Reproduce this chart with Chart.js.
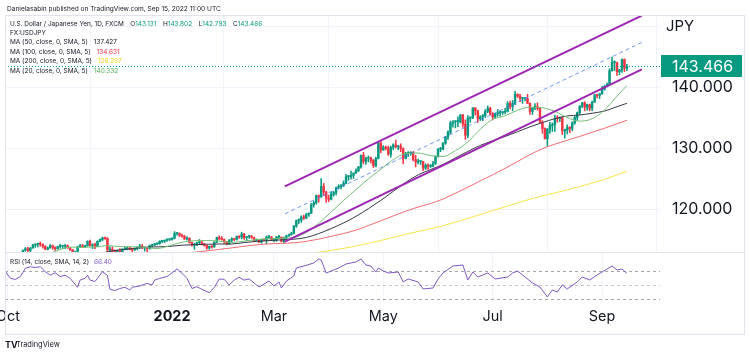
<!DOCTYPE html>
<html><head><meta charset="utf-8">
<script src="https://cdn.jsdelivr.net/npm/chart.js@4.4.1/dist/chart.umd.min.js"></script>
<style>
html,body{margin:0;padding:0;background:#fff;}
#wrap{position:relative;width:750px;height:355px;overflow:hidden;background:#fff;}
canvas{position:absolute;left:0;}
#cMain{top:0;width:750px;height:253px;}
#cRsi{top:253px;width:750px;height:102px;}
</style></head><body>
<div id="wrap"><canvas id="cMain" width="750" height="253"></canvas><canvas id="cRsi" width="750" height="102"></canvas></div>
<script>
// ---------------- DATA ----------------
const firstBar = 6; // bar index of first visible candle (0 = 1 Oct 2021)
const opens = [
112.2,113.3,113.6,113.3,113.7,114.2,114.3,114.4,114.3,114.0,113.5,113.7,114.1,113.8,113.6,
114.0,114.0,114.0,114.1,113.7,113.4,112.9,112.9,113.9,114.1,113.9,114.1,114.8,114.1,114.3,114.0,114.8,115.1,115.4,115.3,113.4,113.5,
113.2,112.8,113.2,112.8,113.5,113.5,113.7,113.5,113.4,113.6,113.7,114.0,113.7,113.7,113.6,114.1,114.2,114.4,114.4,114.8,114.8,115.0,115.1,
115.1,115.3,116.1,116.1,115.8,115.6,115.2,115.3,114.6,114.2,114.2,114.6,114.6,114.3,114.1,113.7,114.0,113.9,114.7,115.4,115.2,
115.1,114.7,114.4,115.0,115.2,115.1,115.6,115.5,116.0,115.4,115.6,115.6,115.4,114.9,115.0,114.7,115.1,115.0,115.5,115.5,
115.0,115.0,115.5,115.5,114.8,115.3,115.7,115.9,116.1,117.3,118.2,118.3,118.8,118.6,119.2,119.4,120.8,121.1,122.3,122.1,123.8,122.9,121.9,
121.7,122.5,122.8,123.6,123.8,124.0,124.3,125.4,125.4,125.6,126.0,126.4,127.0,128.9,127.9,128.4,128.5,128.1,127.2,128.4,130.9,
129.8,130.2,130.1,129.1,130.2,130.6,130.3,130.4,130.0,128.4,129.2,129.2,129.4,128.2,127.8,127.9,127.9,126.8,127.3,127.1,127.1,127.6,
128.7,129.9,129.9,130.9,131.9,132.7,134.2,134.4,134.4,134.4,135.5,134.0,132.2,135.0,135.1,136.7,136.2,134.9,135.2,135.4,136.1,136.6,
135.7,135.2,135.7,135.9,135.9,136.0,136.1,137.4,136.9,137.4,138.9,138.6,138.2,138.2,138.2,137.4,136.1,136.7,136.9,136.6,134.3,
133.3,131.6,133.2,133.8,133.9,135.0,134.9,135.1,132.9,133.0,133.5,133.3,134.2,135.1,135.9,137.0,137.5,136.8,137.2,136.6,137.6,138.8,138.7,
139.0,139.7,140.2,140.5,142.8,144.1,144.1,142.6,142.9,144.6,143.131];
const highs = [
113.4,113.8,113.8,113.8,114.3,114.4,114.5,114.7,114.4,114.1,113.9,114.3,114.2,113.9,114.0,
114.3,114.1,114.3,114.2,113.8,113.5,113.2,114.0,114.3,114.3,114.2,114.9,115.0,114.4,114.5,114.9,115.2,115.5,115.5,115.4,113.9,113.9,
113.4,113.4,113.6,113.6,113.9,113.9,113.8,113.7,113.7,113.9,114.3,114.3,113.8,113.8,114.2,114.3,114.5,114.5,114.9,114.9,115.0,115.2,115.2,
115.4,116.4,116.2,116.2,116.0,115.8,115.6,115.4,114.7,114.5,114.7,115.1,114.8,114.5,114.2,114.0,114.1,114.7,115.5,115.7,115.6,
115.2,114.8,115.1,115.4,115.3,115.7,115.7,116.3,116.1,115.6,115.8,115.8,115.5,115.2,115.1,115.2,115.2,115.7,115.8,115.6,
115.2,115.6,115.8,115.5,115.5,115.8,116.0,116.3,117.4,118.3,118.5,119.0,119.1,119.4,119.5,121.0,121.4,122.4,122.4,125.1,124.3,123.0,122.4,
122.9,123.0,123.7,124.1,124.1,124.7,125.8,125.6,126.3,126.0,126.7,127.1,129.0,129.4,128.6,128.8,128.6,128.2,128.6,131.2,131.3,
130.5,130.4,130.4,130.4,130.8,131.4,130.5,130.8,130.1,129.4,129.5,129.5,129.5,128.9,128.3,128.0,127.9,127.5,127.5,127.4,127.9,128.8,
130.0,130.2,131.0,132.0,132.9,134.5,134.6,134.6,135.2,135.6,135.6,134.7,135.4,135.2,136.7,136.7,136.3,135.4,135.6,136.4,137.0,136.8,
135.9,135.8,136.4,136.2,136.1,136.6,137.7,137.8,137.9,139.4,139.0,138.9,138.4,138.3,138.9,137.5,136.7,137.4,137.5,136.6,134.6,
133.4,133.3,134.3,134.2,135.5,135.4,135.2,135.2,133.2,133.9,133.6,134.4,135.4,136.0,137.0,137.6,137.7,137.3,137.3,137.8,138.9,138.9,139.1,
140.2,140.4,140.8,143.1,145.0,144.4,144.2,143.0,144.7,144.7,143.802];
const lows = [
112.1,113.2,113.1,113.0,113.7,113.8,113.9,114.0,113.7,113.4,113.4,113.7,113.5,113.3,113.5,
113.7,113.6,113.6,113.7,113.3,112.8,112.7,112.8,113.8,113.8,113.8,114.0,114.0,113.6,113.6,113.9,114.7,114.9,115.1,113.1,112.9,112.6,
112.6,112.6,112.6,112.8,113.4,113.4,113.4,113.1,113.3,113.4,113.6,113.6,113.2,113.1,113.5,113.9,114.1,114.2,114.3,114.6,114.6,114.8,114.9,
115.0,115.2,115.8,115.6,115.5,115.1,115.0,114.5,114.0,113.5,114.1,114.4,114.2,114.0,113.5,113.5,113.7,113.8,114.6,115.1,115.0,
114.5,114.2,114.3,114.7,114.9,115.0,115.3,115.2,115.1,114.9,115.3,115.3,114.9,114.8,114.6,114.5,114.9,114.4,115.3,114.9,
114.7,114.8,115.4,114.7,114.6,115.1,115.6,115.8,116.0,117.1,117.7,117.9,118.4,118.5,118.9,119.4,120.4,120.9,121.2,122.0,122.3,121.2,121.3,
121.6,122.2,122.4,123.4,123.4,123.8,124.2,124.8,125.0,125.1,125.9,126.2,126.8,127.5,127.4,127.8,127.6,126.9,127.0,128.3,129.3,
129.7,129.8,128.9,128.6,129.8,130.1,129.8,129.5,127.5,128.3,128.7,128.9,128.0,127.0,127.5,127.4,126.4,126.6,126.6,126.9,127.0,127.4,
128.6,129.5,129.8,130.7,131.5,132.4,133.5,133.4,133.6,134.2,133.5,131.5,131.8,134.3,134.9,135.5,134.3,134.6,134.6,135.1,135.9,135.5,
134.7,135.0,135.3,135.3,135.6,135.7,136.0,136.5,136.2,137.2,138.4,137.7,137.4,137.8,137.4,135.6,135.6,136.4,136.3,134.2,132.5,
131.6,130.4,132.5,132.8,132.8,134.3,134.4,132.3,131.7,132.4,132.6,132.9,134.0,134.6,135.6,136.7,136.2,136.3,136.2,136.2,137.6,138.3,138.2,
138.9,139.6,140.1,140.4,142.7,142.8,142.0,142.1,142.5,142.6,142.793];
const closes = [
113.3,113.6,113.3,113.7,114.2,114.3,114.4,114.3,114.0,113.5,113.7,114.1,113.8,113.6,114.0,
114.0,114.0,114.1,113.7,113.4,112.9,112.9,113.9,114.1,113.9,114.1,114.8,114.1,114.3,114.0,114.8,115.1,115.4,115.3,113.4,113.5,113.2,
112.8,113.2,112.8,113.5,113.5,113.7,113.5,113.4,113.6,113.7,114.0,113.7,113.7,113.6,114.1,114.2,114.4,114.4,114.8,114.8,115.0,115.1,115.1,
115.3,116.1,116.1,115.8,115.6,115.2,115.3,114.6,114.2,114.2,114.6,114.6,114.3,114.1,113.7,114.0,113.9,114.7,115.4,115.2,115.1,
114.7,114.4,115.0,115.2,115.1,115.6,115.5,116.0,115.4,115.6,115.6,115.4,114.9,115.0,114.7,115.1,115.0,115.5,115.5,115.0,
115.0,115.5,115.5,114.8,115.3,115.7,115.9,116.1,117.3,118.2,118.3,118.8,118.6,119.2,119.4,120.8,121.1,122.3,122.1,123.8,122.9,121.9,121.7,
122.5,122.8,123.6,123.8,124.0,124.3,125.4,125.4,125.6,126.0,126.4,127.0,128.9,127.9,128.4,128.5,128.1,127.2,128.4,130.9,129.8,
130.2,130.1,129.1,130.2,130.6,130.3,130.4,130.0,128.4,129.2,129.2,129.4,128.2,127.8,127.9,127.9,126.8,127.3,127.1,127.1,127.6,128.7,
129.9,129.9,130.9,131.9,132.7,134.2,134.4,134.4,134.4,135.5,134.0,132.2,135.0,135.1,136.7,136.2,134.9,135.2,135.4,136.1,136.6,135.7,
135.2,135.7,135.9,135.9,136.0,136.1,137.4,136.9,137.4,138.9,138.6,138.2,138.2,138.2,137.4,136.1,136.7,136.9,136.6,134.3,133.3,
131.6,133.2,133.8,133.9,135.0,134.9,135.1,132.9,133.0,133.5,133.3,134.2,135.1,135.9,137.0,137.5,136.8,137.2,136.6,137.6,138.8,138.7,139.0,
139.7,140.2,140.5,142.8,144.1,144.1,142.6,142.9,144.6,143.2,143.466];

const ma20Idx = [16,19,25,30,35,40,45,50,55,60,65,70,75,80,85,90,95,100,105,110,115,120,125,130,135,140,145,150,155,160,165,170,175,180,185,190,195,200,205,210,215,220,225,230,235,240,245,249];
const ma20Vals = [112.7,113.15,113.85,113.83,113.87,114.11,113.93,113.92,113.79,113.63,114.09,114.66,114.9,114.93,114.85,114.62,114.83,115.09,115.2,115.29,115.42,116.25,117.75,119.6,121.5,123.29,125.04,126.62,128.2,129.18,129.27,128.86,128.7,129.67,131.1,133.19,134.79,135.39,136.3,136.8,136.7,136.1,135.1,134.5,134.9,136.35,138.6,140.33];
const ma50Idx = [35,40,45,50,55,60,65,70,75,80,85,90,95,100,105,110,115,120,125,130,135,140,145,150,155,160,165,170,175,180,185,190,195,200,205,210,215,220,225,230,235,240,245,249];
const ma50Vals = [112.58,113.08,113.4,113.61,113.84,113.89,113.97,114.17,114.25,114.33,114.36,114.37,114.61,114.79,114.93,115.04,115.15,115.43,116.07,116.9,117.81,118.9,120.16,121.52,123.0,124.46,125.7,126.56,127.39,128.48,129.54,130.52,131.29,131.99,132.77,133.57,134.27,134.9,135.35,135.51,135.8,136.16,136.87,137.43];
const ma100Idx = [70,80,90,97,105,110,115,120,125,130,135,140,145,150,155,160,165,170,175,180,185,190,195,200,205,210,215,220,225,230,235,240,245,249];
const ma100Vals = [112.78,113.24,113.73,114.1,114.39,114.46,114.56,114.8,115.16,115.62,116.09,116.64,117.39,118.16,118.97,119.75,120.42,121.0,121.73,122.69,123.67,124.71,125.72,126.76,127.89,129.01,129.99,130.73,131.37,132.0,132.67,133.34,134.08,134.63];
const ma200Idx = [120,125,130,135,140,145,150,155,160,165,170,175,180,185,190,195,200,205,210,215,220,225,230,235,240,245,249];
const ma200Vals = [112.76,113.03,113.33,113.65,114.03,114.48,114.95,115.46,115.96,116.42,116.86,117.35,117.94,118.55,119.19,119.84,120.45,121.11,121.71,122.25,122.74,123.24,123.78,124.35,124.96,125.7,126.3];

const rsiIdx = [-1,1,3,5,7,9,11,13,15,17,19,21,23,25,28,29,31,32,33,35,36,38,40,41,43,45,47,49,50,53,56,58,59,61,64,66,68,70,72,74,76,78,81,83,85,87,89,91,93,95,97,101,105,107,109,110,112,115,116,119,123,125,126,128,131,133,136,140,142,144,146,148,149,151,153,157,159,161,165,167,171,173,175,179,183,185,187,189,193,196,201,203,205,207,211,214,217,219,221,223,225,229,231,234,237,239,243,245,247,249];
const rsiVals = [69,59.5,58,62,74,76,75,76,69,64,67.5,62,64,59.5,46.7,57,59.5,64,57,55,59.5,69,64,44,42,45,46.7,43,46.7,48.6,52.4,50,57,59.5,62,67.5,73,66.7,59.5,45,47.6,43.8,39,46.7,58.6,58,50,57,61,57,58.6,47.1,55.7,48.6,54.3,45.7,55.7,62.9,74.3,77.1,81.4,87.1,85.7,67.1,71.4,74.3,80,82.9,87.1,78.6,77.1,68.6,74.3,70,67.1,68.6,54.3,58.6,54.3,44.3,45.7,58.6,67.1,77.1,78.6,57.1,68.6,61.4,67.1,58.6,61.4,67.1,70,64.3,52.9,47.1,32.9,42.9,40,50,44.3,54.3,61.4,57.1,64.3,68.6,77.1,71.4,72.9,66.4];

// parallel channel drawing (bar index, price)
const channelX = [111.4, 255];
const channelUpper = [123.8, 151.8];
const channelMid = [119.3, 147.4];
const channelLower = [114.75, 143.0];

const timeTickIdx = [0, 66, 107, 151, 195, 239];
const timeTickLabels = ['Oct', '2022', 'Mar', 'May', 'Jul', 'Sep'];
const priceTicks = [120, 130, 140, 150];
const rsiBands = [70, 50, 30];
const lastPrice = 143.466;

const headerText = 'Danielasabin published on TradingView.com, Sep 15, 2022 11:00 UTC';
const symbolTitle = 'U.S. Dollar / Japanese Yen, 1D, FXCM';
const ohlcLabels = ['O', 'H', 'L', 'C'];
const ohlcValues = ['143.131', '143.802', '142.793', '143.466'];
const maLegendLabels = ['MA (50, close, 0, SMA, 5)', 'MA (100, close, 0, SMA, 5)', 'MA (200, close, 0, SMA, 5)', 'MA (20, close, 0, SMA, 5)'];
const maLegendValues = ['137.427', '134.631', '126.297', '140.332'];
const rsiLegendLabel = 'RSI (14, close, SMA, 14, 2)';
const rsiLegendValue = '66.40';

// ---------------- STYLE ----------------
const FAM = 'Inter, "Noto Sans", "Liberation Sans", sans-serif';
const TEXT = '#131722', TEAL = '#089981', UP = '#089981', DOWN = '#f23645';
const GRID = '#f0f3fa', BORDER = '#e0e3eb';
const C_MA20 = '#72c075', C_MA50 = '#363a45', C_MA100 = '#f06a72', C_MA200 = '#f8e44a';
const C_MA_TXT = ['#131722', '#f23645', '#f2cf1a', '#4caf50'];
const PURPLE = '#9c27b0', MIDBLUE = 'rgba(66,120,240,0.75)', RSI_C = '#7e57c2';

const X_MIN = -1.2, X_MAX = 262.3;
const Y_MIN = 112.89, Y_MAX = 151.9;
const RSI_MIN = 25.7, RSI_MAX = 95.7;

[highs, lows, closes].forEach((a, k) => { if (a.length !== opens.length) console.error('length mismatch', k, a.length, opens.length); });
if (ma20Idx.length !== ma20Vals.length || ma50Idx.length !== ma50Vals.length || ma100Idx.length !== ma100Vals.length || ma200Idx.length !== ma200Vals.length || rsiIdx.length !== rsiVals.length) console.error('ma/rsi length mismatch');

const mctx = document.createElement('canvas').getContext('2d');
function fitSize(text, weight, target) {
  mctx.font = weight + ' 100px ' + FAM;
  return 100 * target / mctx.measureText(text).width;
}
const F_AXIS = fitSize('140.000', 400, 61);
const F_JPY = fitSize('JPY', 400, 28);
const F_TIME = fitSize('May', 400, 29);
const F_YEAR = fitSize('2022', 700, 37);
const F_LEG = fitSize(maLegendLabels[0], 400, 78);
const F_HEAD = fitSize(headerText, 400, 214);
const F_LOGO = fitSize('TradingView', 400, 44);

// ---------------- DATASETS ----------------
const pts = (xs, ys) => xs.map((x, i) => ({x: x, y: ys[i]}));
const candleColor = (i) => closes[i] >= opens[i] ? UP : DOWN;
const wickData = opens.map((o, i) => ({x: firstBar + i, y: [lows[i], highs[i]]}));
const bodyData = opens.map((o, i) => ({x: firstBar + i, y: [o, closes[i]]}));
const barColors = opens.map((o, i) => candleColor(i));

const lineDs = (data, color, width, extra) => Object.assign({
  type: 'line', data: data, borderColor: color, borderWidth: width, pointRadius: 0,
  fill: false, cubicInterpolationMode: 'monotone'
}, extra || {});

const mainDatasets = [
  lineDs(pts(channelX, channelUpper), PURPLE, 2, {cubicInterpolationMode: 'default', tension: 0}),
  lineDs(pts(channelX, channelLower), PURPLE, 2, {cubicInterpolationMode: 'default', tension: 0}),
  lineDs(pts(channelX, channelMid), MIDBLUE, 1, {cubicInterpolationMode: 'default', tension: 0, borderDash: [4, 3]}),
  lineDs(pts(ma20Idx, ma20Vals), C_MA20, 1),
  lineDs(pts(ma50Idx, ma50Vals), C_MA50, 1),
  lineDs(pts(ma100Idx, ma100Vals), C_MA100, 1),
  lineDs(pts(ma200Idx, ma200Vals), C_MA200, 1),
  {type: 'bar', data: bodyData, backgroundColor: barColors, borderWidth: 0, barThickness: 1.8, grouped: false, minBarLength: 1},
  {type: 'bar', data: wickData, backgroundColor: barColors, borderWidth: 0, barThickness: 0.9, grouped: false}
];

function noPad(s) { s.paddingLeft = 0; s.paddingRight = 0; s.paddingTop = 0; s.paddingBottom = 0; }

const mainOverlay = {
  id: 'mainOverlay',
  afterDatasetsDraw(chart) {
    const ctx = chart.ctx, a = chart.chartArea, y = chart.scales.y;
    const py = Math.round(y.getPixelForValue(lastPrice)) + 0.5;
    ctx.save();
    ctx.strokeStyle = TEAL; ctx.lineWidth = 1; ctx.setLineDash([1, 2]);
    ctx.beginPath(); ctx.moveTo(a.left, py); ctx.lineTo(a.right, py); ctx.stroke();
    ctx.restore();
  },
  afterDraw(chart) {
    const ctx = chart.ctx, a = chart.chartArea, y = chart.scales.y;
    ctx.save();
    // frame
    ctx.strokeStyle = BORDER; ctx.lineWidth = 1; ctx.setLineDash([]);
    ctx.beginPath();
    ctx.moveTo(5, a.top + 0.5); ctx.lineTo(745, a.top + 0.5);
    ctx.moveTo(5.5, a.top); ctx.lineTo(5.5, a.bottom);
    ctx.moveTo(744.5, a.top); ctx.lineTo(744.5, a.bottom);
    ctx.moveTo(5, a.bottom - 0.5); ctx.lineTo(745, a.bottom - 0.5);
    ctx.stroke();
    // price label box
    const py = y.getPixelForValue(lastPrice);
    ctx.fillStyle = TEAL;
    ctx.fillRect(661, Math.round(py) - 11, 81, 22);
    ctx.fillStyle = '#ffffff';
    ctx.textBaseline = 'middle'; ctx.textAlign = 'left';
    ctx.font = '400 ' + F_AXIS + 'px ' + FAM;
    ctx.fillText(ohlcValues[3], 672, py + 0.5);
    // unit
    ctx.fillStyle = TEXT;
    ctx.font = '400 ' + F_JPY + 'px ' + FAM;
    ctx.fillText('JPY', 666, 27);
    // header
    ctx.font = '400 ' + F_HEAD + 'px ' + FAM;
    ctx.fillText(headerText, 7, 9);
    // legend line 1
    ctx.font = '400 ' + F_LEG + 'px ' + FAM;
    let x = 10;
    ctx.fillText(symbolTitle, x, 24);
    const wTitle = ctx.measureText(symbolTitle).width;
    let wParts = 0;
    ohlcLabels.forEach((l, i) => { wParts += ctx.measureText(l + ohlcValues[i]).width; });
    const gap = Math.max(3, (252 - wTitle - wParts) / 4);
    x += wTitle;
    ohlcLabels.forEach((l, i) => {
      x += gap;
      ctx.fillStyle = TEXT; ctx.fillText(l, x, 24);
      x += ctx.measureText(l).width;
      ctx.fillStyle = TEAL; ctx.fillText(ohlcValues[i], x, 24);
      x += ctx.measureText(ohlcValues[i]).width;
    });
    ctx.fillStyle = TEXT;
    ctx.fillText('FX:USDJPY', 10, 33);
    const rows = [42.3, 52, 61.3, 70.7];
    maLegendLabels.forEach((t, i) => {
      ctx.fillStyle = TEXT;
      ctx.fillText(t, 10, rows[i]);
      const w = ctx.measureText(t).width;
      ctx.fillStyle = C_MA_TXT[i];
      ctx.fillText(maLegendValues[i], 10 + w + 6, rows[i]);
    });
    ctx.restore();
  }
};

new Chart(document.getElementById('cMain'), {
  type: 'bar',
  data: {datasets: mainDatasets},
  options: {
    responsive: false, animation: false, events: [], devicePixelRatio: 1,
    layout: {padding: {left: 5, right: 5, top: 15, bottom: 0}},
    plugins: {legend: {display: false}, tooltip: {enabled: false}},
    scales: {
      x: {
        type: 'linear', min: X_MIN, max: X_MAX, offset: false, display: true,
        afterBuildTicks: s => { s.ticks = timeTickIdx.map(v => ({value: v})); },
        ticks: {display: false},
        grid: {color: GRID, drawTicks: false, lineWidth: 1},
        border: {display: false},
        afterFit: s => { s.height = 0; noPad(s); }
      },
      y: {
        type: 'linear', position: 'right', min: Y_MIN, max: Y_MAX,
        afterBuildTicks: s => { s.ticks = priceTicks.map(v => ({value: v})); },
        ticks: {
          autoSkip: false, padding: 12, color: TEXT,
          font: {family: FAM, size: F_AXIS, weight: 400},
          callback: v => (v === 150 ? '' : Number(v).toFixed(3))
        },
        grid: {color: GRID, drawTicks: false, lineWidth: 1},
        border: {display: false},
        afterFit: s => { s.width = 85; noPad(s); }
      }
    }
  },
  plugins: [mainOverlay]
});

// ---------------- RSI + TIME AXIS ----------------
const rsiOverlay = {
  id: 'rsiOverlay',
  beforeDatasetsDraw(chart) {
    const ctx = chart.ctx, a = chart.chartArea, y = chart.scales.y;
    ctx.save();
    ctx.lineWidth = 1; ctx.setLineDash([3, 3]);
    rsiBands.forEach(b => {
      const py = Math.round(y.getPixelForValue(b)) + 0.5;
      ctx.strokeStyle = b === 50 ? 'rgba(149,152,161,0.55)' : '#a3a6af';
      ctx.beginPath(); ctx.moveTo(a.left, py); ctx.lineTo(a.right, py); ctx.stroke();
    });
    ctx.restore();
  },
  afterDraw(chart) {
    const ctx = chart.ctx, a = chart.chartArea;
    ctx.save();
    ctx.strokeStyle = BORDER; ctx.lineWidth = 1;
    ctx.beginPath();
    ctx.moveTo(5.5, 0); ctx.lineTo(5.5, 82);
    ctx.moveTo(744.5, 0); ctx.lineTo(744.5, 82);
    ctx.moveTo(5, 81.5); ctx.lineTo(745, 81.5);
    ctx.stroke();
    ctx.textBaseline = 'middle'; ctx.textAlign = 'left';
    ctx.font = '400 ' + F_LEG + 'px ' + FAM;
    ctx.fillStyle = TEXT;
    ctx.fillText(rsiLegendLabel, 10, 9);
    const w = ctx.measureText(rsiLegendLabel).width;
    ctx.fillStyle = RSI_C;
    ctx.fillText(rsiLegendValue, 10 + w + 5, 9);
    // TradingView mark
    ctx.fillStyle = TEXT;
    ctx.font = '700 ' + (F_LOGO + 1.5) + 'px ' + FAM;
    ctx.fillText('TV', 5, 92);
    ctx.font = '400 ' + F_LOGO + 'px ' + FAM;
    ctx.fillText('TradingView', 16, 92);
    ctx.restore();
  }
};

new Chart(document.getElementById('cRsi'), {
  type: 'line',
  data: {datasets: [{
    data: pts(rsiIdx, rsiVals), borderColor: RSI_C, borderWidth: 1, pointRadius: 0, fill: false, tension: 0
  }]},
  options: {
    responsive: false, animation: false, events: [], devicePixelRatio: 1,
    layout: {padding: {left: 5, right: 5, top: 0, bottom: 20}},
    plugins: {legend: {display: false}, tooltip: {enabled: false}},
    scales: {
      x: {
        type: 'linear', position: 'bottom', min: X_MIN, max: X_MAX, offset: false,
        afterBuildTicks: s => { s.ticks = timeTickIdx.map(v => ({value: v})); },
        ticks: {
          autoSkip: false, maxRotation: 0, minRotation: 0, padding: 6, color: TEXT,
          font: c => (c.tick && c.tick.value === 66)
            ? {family: FAM, size: F_YEAR, weight: 700}
            : {family: FAM, size: F_TIME, weight: 400},
          callback: (v, i) => timeTickLabels[i]
        },
        grid: {color: GRID, drawTicks: false, lineWidth: 1},
        border: {display: false},
        afterFit: s => { s.height = 33; noPad(s); }
      },
      y: {
        type: 'linear', position: 'right', min: RSI_MIN, max: RSI_MAX,
        ticks: {display: false}, grid: {display: false}, border: {display: false},
        afterFit: s => { s.width = 85; noPad(s); }
      }
    }
  },
  plugins: [rsiOverlay]
});
</script>
</body></html>
